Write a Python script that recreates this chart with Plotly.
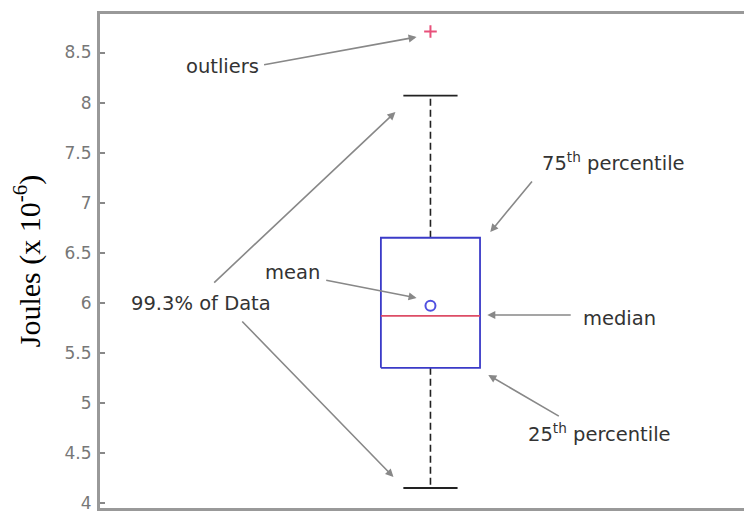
import plotly.graph_objects as go

# ---- data ----
box_x = [0.0]
q1 = [5.35]
median = [5.87]
q3 = [6.65]
mean = [5.97]
whisker_low = [4.15]
whisker_high = [8.07]
outliers = [8.71]
y_ticks = [4, 4.5, 5, 5.5, 6, 6.5, 7, 7.5, 8, 8.5]
y_tick_labels = ["4", "4.5", "5", "5.5", "6", "6.5", "7", "7.5", "8", "8.5"]

HALF_BOX = 0.15
HALF_CAP = 0.082

c = box_x[0]
fig = go.Figure()

# whiskers (dashed black)
fig.add_trace(go.Scatter(x=[c, c, None, c, c], y=[q3[0], whisker_high[0], None, q1[0], whisker_low[0]],
                         mode="lines", line=dict(color="#222", width=1.6, dash="7px,4px"),
                         hoverinfo="skip"))
# caps
fig.add_trace(go.Scatter(x=[c - HALF_CAP, c + HALF_CAP, None, c - HALF_CAP, c + HALF_CAP],
                         y=[whisker_high[0], whisker_high[0], None, whisker_low[0], whisker_low[0]],
                         mode="lines", line=dict(color="#222", width=1.8), hoverinfo="skip"))
# box
fig.add_trace(go.Scatter(x=[c - HALF_BOX, c + HALF_BOX, c + HALF_BOX, c - HALF_BOX, c - HALF_BOX],
                         y=[q1[0], q1[0], q3[0], q3[0], q1[0]],
                         mode="lines", line=dict(color="#3b3bc8", width=1.8), hoverinfo="skip"))
# median
fig.add_trace(go.Scatter(x=[c - HALF_BOX, c + HALF_BOX], y=[median[0], median[0]],
                         mode="lines", line=dict(color="#dd4c66", width=1.8), hoverinfo="skip"))
# mean
fig.add_trace(go.Scatter(x=box_x, y=mean, mode="markers",
                         marker=dict(symbol="circle-open", size=10, color="#5050e0", line=dict(width=2)),
                         hoverinfo="skip"))
# outliers
fig.add_trace(go.Scatter(x=[c] * len(outliers), y=outliers, mode="markers",
                         marker=dict(symbol="cross-thin-open", size=9, color="#e8507a", line=dict(width=2)),
                         hoverinfo="skip"))

TXT = dict(family="DejaVu Sans", size=19.5, color="#333")
ARROW = dict(showarrow=True, arrowhead=2, arrowsize=1, arrowwidth=1.6, arrowcolor="#888",
             xref="x", yref="y", axref="x", ayref="y", text="")

labels = [
    ("outliers", -0.628, 8.356),
    ("99.3% of Data", -0.695, 5.988),
    ("mean", -0.417, 6.298),
    ("75<sup>th</sup> percentile", 0.553, 7.407),
    ("median", 0.571, 5.848),
    ("25<sup>th</sup> percentile", 0.511, 4.699),
]
arrows = [
    (-0.508, 8.376, -0.042, 8.655),
    (-0.659, 6.188, -0.106, 7.906),
    (-0.574, 5.828, -0.112, 4.26),
    (-0.320, 6.228, -0.042, 6.048),
    (0.311, 7.227, 0.181, 6.707),
    (0.429, 5.878, 0.172, 5.878),
    (0.393, 4.859, 0.175, 5.279),
]
for t, x, y in labels:
    fig.add_annotation(x=x, y=y, xref="x", yref="y", text=t, showarrow=False, font=TXT)
for ax, ay, x, y in arrows:
    fig.add_annotation(x=x, y=y, ax=ax, ay=ay, **ARROW)

fig.update_layout(
    width=744, height=506,
    margin=dict(l=92, r=0, t=6, b=6),
    paper_bgcolor="white", plot_bgcolor="white",
    showlegend=False,
    xaxis=dict(range=[-1.0, 0.973], showgrid=False, zeroline=False, showticklabels=False,
               showline=True, mirror=True, linecolor="#999", linewidth=3, ticks=""),
    yaxis=dict(range=[3.95, 8.885], showgrid=False, zeroline=False,
               tickvals=y_ticks, ticktext=y_tick_labels,
               ticks="inside", ticklen=5, tickwidth=1.5, tickcolor="#888",
               tickfont=dict(family="DejaVu Sans", size=17, color="#777"),
               ticklabelstandoff=2,
               showline=True, mirror=False, linecolor="#999", linewidth=3,
               automargin=False,
               title=dict(text="Joules (x 10<sup>-6</sup>)",
                          font=dict(family="Liberation Serif", size=30, color="#000"),
                          standoff=18)),
)

fig.write_html("out.html")
